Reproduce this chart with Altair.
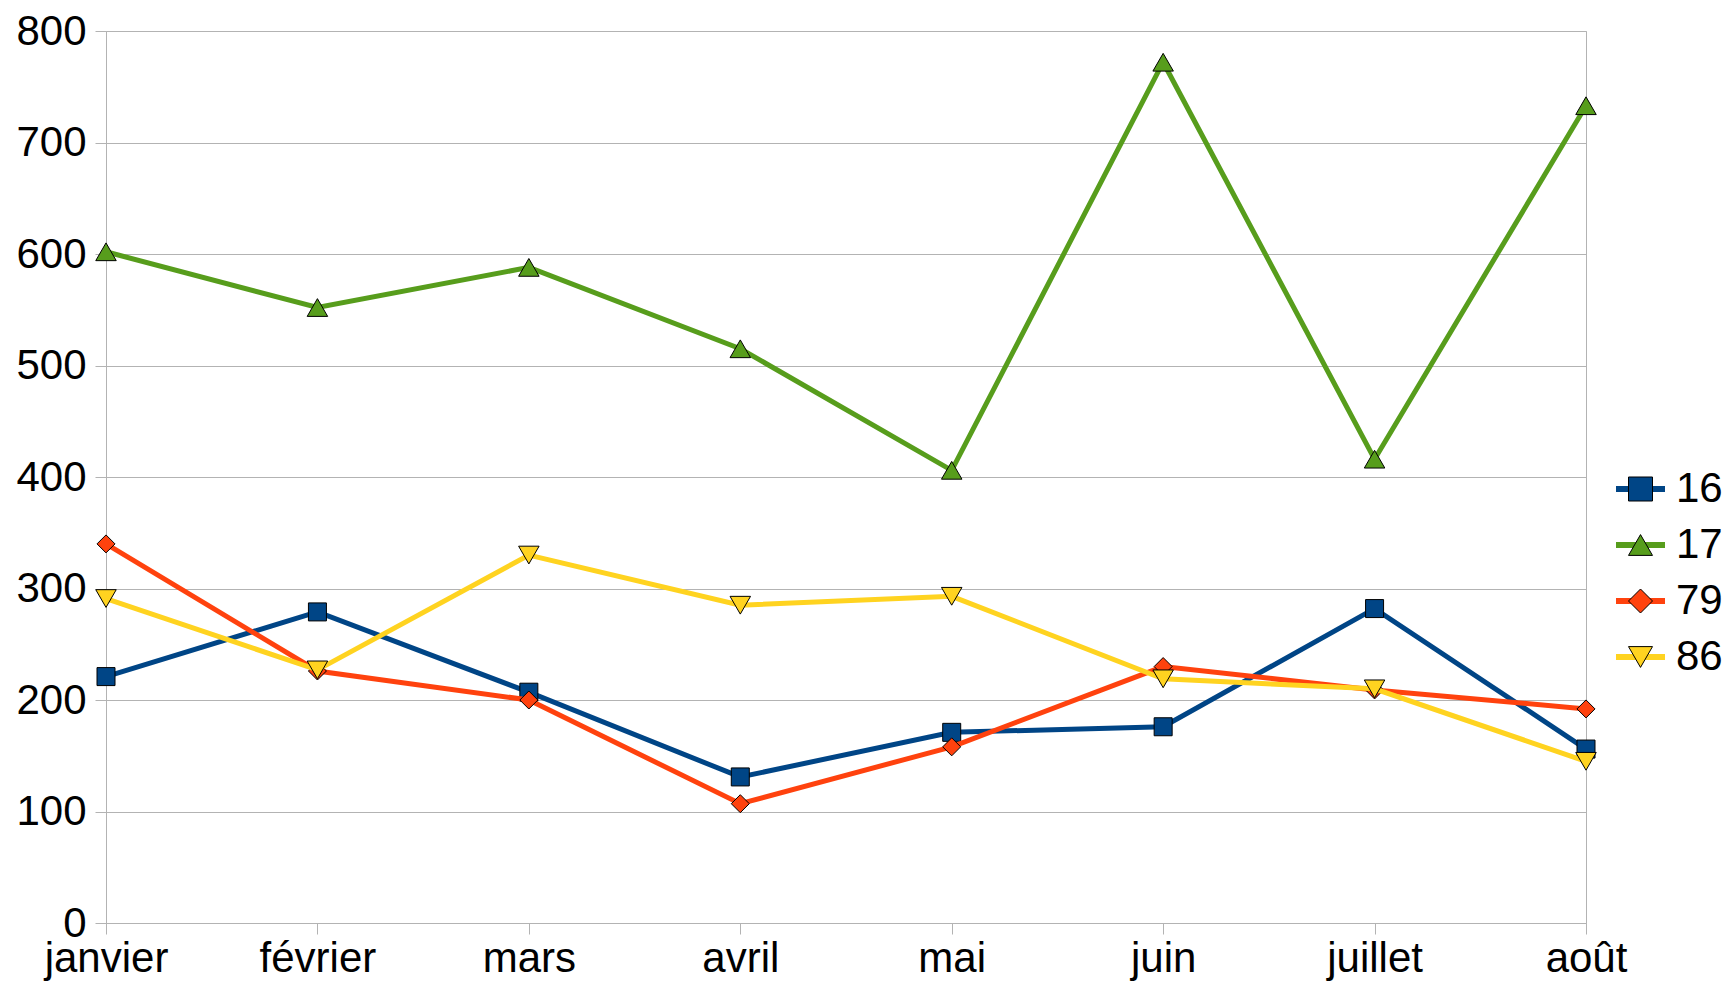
import altair as alt
import pandas as pd

months = ["janvier", "février", "mars", "avril", "mai", "juin", "juillet", "août"]
series = ["16", "17", "79", "86"]
s16 = [221, 279, 207, 131, 171, 176, 282, 156]
s17 = [602, 552, 588, 515, 406, 772, 416, 733]
s79 = [340, 226, 200, 107, 158, 230, 209, 192]
s86 = [291, 227, 330, 285, 293, 219, 210, 145]
colors = ["#004586", "#579d1c", "#ff420e", "#ffd320"]
shapes = ["square", "triangle-up", "diamond", "triangle-down"]
y_ticks = [0, 100, 200, 300, 400, 500, 600, 700, 800]

values = {"16": s16, "17": s17, "79": s79, "86": s86}
rows = []
for s in series:
    for m, v in zip(months, values[s]):
        rows.append({"month": m, "series": s, "value": v})
df = pd.DataFrame(rows)
legend_df = pd.DataFrame({"series": series})

FONT = "Liberation Sans"
GRAY = "#b3b3b3"

color_enc = alt.Color("series:N", scale=alt.Scale(domain=series, range=colors), legend=None)
shape_enc = alt.Shape("series:N", scale=alt.Scale(domain=series, range=shapes), legend=None)

x_enc = alt.X(
    "month:N", sort=months, title=None,
    scale=alt.Scale(type="point", padding=0),
    axis=alt.Axis(labelAngle=0, labelFontSize=42, labelFont=FONT, labelColor="black",
                  tickSize=11, tickColor=GRAY, domainColor=GRAY, labelPadding=4,
                  grid=False, labelOverlap=False),
)
y_enc = alt.Y(
    "value:Q", title=None,
    scale=alt.Scale(domain=[0, 800], nice=False, zero=True),
    axis=alt.Axis(values=y_ticks, labelFontSize=42, labelFont=FONT, labelColor="black",
                  tickSize=11, tickColor=GRAY, domainColor=GRAY, gridColor=GRAY,
                  labelPadding=9, labelOverlap=False),
)

base = alt.Chart(df)
layers = []
for s in series:
    sub = base.transform_filter(alt.datum.series == s)
    layers.append(sub.mark_line(strokeWidth=5).encode(x=x_enc, y=y_enc, color=color_enc))
    size = 324 if s in ("16", "79") else 420
    layers.append(
        sub.mark_point(filled=True, stroke="black", strokeWidth=1, opacity=1, size=size)
        .encode(x=x_enc, y=y_enc, color=color_enc, shape=shape_enc)
    )
main = alt.layer(*layers)

ly = alt.Y("series:N", scale=alt.Scale(type="point", domain=series, range=[458, 626], padding=0), axis=None)
lbase = alt.Chart(legend_df)
leg_line = lbase.mark_rule(strokeWidth=6).encode(
    x=alt.value(1510), x2=alt.value(1559), y=ly, color=color_enc)
leg_pt = lbase.mark_point(filled=True, stroke="black", strokeWidth=1, opacity=1, size=576).encode(
    x=alt.value(1534.5), y=ly, color=color_enc, shape=shape_enc)
leg_txt = lbase.mark_text(align="left", baseline="middle", fontSize=42, font=FONT, color="black").encode(
    x=alt.value(1570), y=ly, text="series:N")
legend = alt.layer(leg_line, leg_pt, leg_txt)

chart = (
    alt.layer(main, legend)
    .resolve_scale(y="independent")
    .properties(
        width=1480, height=892,
        padding={"left": 98, "top": 23, "right": 136, "bottom": 58},
        autosize=alt.AutoSizeParams(type="none"),
        background="white",
    )
    .configure_view(stroke=GRAY, strokeWidth=1)
)

chart.save("out.html", embed_options={"renderer": "svg", "actions": False})
